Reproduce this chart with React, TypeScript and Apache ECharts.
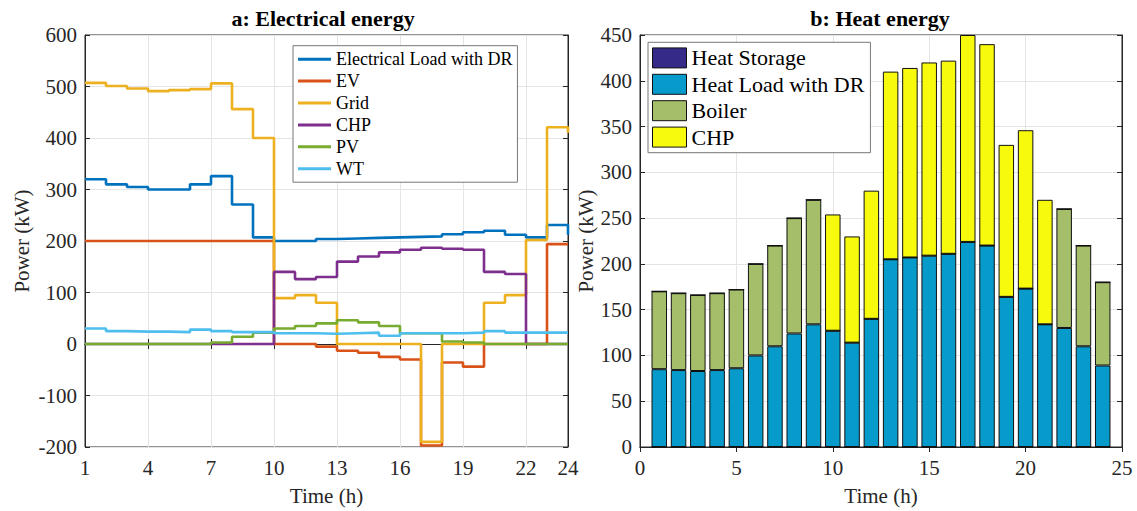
import React, { useEffect, useRef } from 'react';
import * as echarts from 'echarts';

// ---- Panel a: electrical energy (hourly stairs) ----
const hours = ['1', '2', '3', '4', '5', '6', '7', '8', '9', '10', '11', '12', '13', '14', '15', '16', '17', '18', '19', '20', '21', '22', '23', '24'];

const loadWithDR = [320, 310, 305, 300, 300, 310, 326, 271, 207, 200, 200, 204, 205, 206, 207, 208, 209, 213, 217, 220, 212, 207, 231, 212];
const ev = [200, 200, 200, 200, 200, 200, 200, 200, 200, 0, 0, -5, -13, -17, -25, -30, -197, -36, -44, 0, 0, 0, 194, 194];
const gridPower = [507, 501, 496, 491, 493, 495, 506, 456, 400, 89, 95, 80, 0, 0, 0, 0, -190, 0, 0, 80, 95, 202, 421, 410];
const chpPower = [0, 0, 0, 0, 0, 0, 0, 0, 0, 140, 126, 130, 160, 170, 178, 183, 187, 185, 183, 140, 136, 0, 0, 0];
const pv = [0, 0, 0, 0, 0, 0, 3, 14, 22, 30, 35, 40, 46, 42, 35, 21, 21, 5, 3, 0, 0, 0, 0, 0];
const wt = [30, 25, 24, 24, 23, 28, 25, 23, 23, 21, 21, 20, 21, 22, 16, 21, 21, 21, 22, 25, 22, 22, 22, 22];

// ---- Panel b: heat energy (stacked bars, hours 1..24 on a 0..25 axis) ----
const heatAxis = ['0', '1', '2', '3', '4', '5', '6', '7', '8', '9', '10', '11', '12', '13', '14', '15', '16', '17', '18', '19', '20', '21', '22', '23', '24', '25'];
const heatStorage = [0, 0, 0, 0, 0, 0, 0, 0, 0, 0, 0, 0, 0, 0, 0, 0, 0, 0, 0, 0, 0, 0, 0, 0];
const heatLoad = [85, 84, 83, 84, 86, 100, 110, 124, 134, 127, 114, 140, 205, 207, 209, 211, 224, 220, 164, 173, 134, 130, 110, 89];
const boiler = [85, 84, 83, 84, 86, 100, 110, 126, 136, 0, 0, 0, 0, 0, 0, 0, 0, 0, 0, 0, 0, 130, 110, 91];
const chpHeat = [0, 0, 0, 0, 0, 0, 0, 0, 0, 127, 116, 140, 205, 207, 211, 211, 226, 220, 166, 173, 136, 0, 0, 0];

const FONT = 'Liberation Serif';
const AXIS = '#262626';
const GRIDLINE = '#e4e4e4';

const hourTick = (index: number) => index % 3 === 0 || index === 23;
const heatTick = (index: number) => index % 5 === 0;

// hour values sit between the empty 0 and 25 slots of the heat axis
const onHeatAxis = (vals: number[]) => [null, ...vals, null];

const lineSeries = (name: string, data: number[], color: string) => ({
  name,
  type: 'line',
  xAxisIndex: 0,
  yAxisIndex: 0,
  step: 'end',
  symbol: 'none',
  showSymbol: false,
  data,
  itemStyle: { color },
  lineStyle: { color, width: 2.6 },
});

const barSeries = (name: string, data: number[], color: string) => ({
  name,
  type: 'bar',
  xAxisIndex: 2,
  yAxisIndex: 2,
  stack: 'heat',
  barWidth: 15.5,
  data: onHeatAxis(data),
  itemStyle: { color, borderColor: '#111', borderWidth: 1 },
});

const labelStyle = { fontFamily: FONT, fontSize: 21, color: AXIS };
const nameStyle = { fontFamily: FONT, fontSize: 21, color: AXIS };

const boxAxis = (gridIndex: number, position: string, extra: object) => ({
  gridIndex,
  position,
  axisLine: { show: true, lineStyle: { color: AXIS } },
  axisLabel: { show: false },
  splitLine: { show: false },
  ...extra,
});

export default function App() {
  const ref = useRef<HTMLDivElement>(null);

  useEffect(() => {
    const chart = echarts.init(ref.current!, null, { renderer: 'svg' });
    const option = {
      animation: false,
      backgroundColor: '#fff',
      grid: [
        { left: 85, top: 35, width: 483, height: 412, show: true, borderColor: AXIS, borderWidth: 1, backgroundColor: 'transparent' },
        { left: 640, top: 35, width: 482, height: 412, show: true, borderColor: AXIS, borderWidth: 1, backgroundColor: 'transparent' },
      ],
      xAxis: [
        {
          type: 'category',
          gridIndex: 0,
          data: hours,
          boundaryGap: false,
          position: 'bottom',
          axisLine: { lineStyle: { color: AXIS } },
          axisTick: { inside: true, length: 5, interval: hourTick, lineStyle: { color: AXIS } },
          axisLabel: { interval: hourTick, margin: 10, ...labelStyle },
          splitLine: { show: true, interval: hourTick, lineStyle: { color: GRIDLINE } },
          name: 'Time (h)',
          nameLocation: 'middle',
          nameGap: 38,
          nameTextStyle: nameStyle,
        },
        boxAxis(0, 'top', {
          type: 'category',
          data: hours,
          boundaryGap: false,
          axisTick: { inside: true, length: 5, interval: hourTick, lineStyle: { color: AXIS } },
        }),
        {
          type: 'category',
          gridIndex: 1,
          data: heatAxis,
          boundaryGap: false,
          position: 'bottom',
          axisLine: { lineStyle: { color: AXIS } },
          axisTick: { inside: true, length: 5, interval: heatTick, lineStyle: { color: AXIS } },
          axisLabel: { interval: heatTick, margin: 10, ...labelStyle },
          splitLine: { show: true, interval: heatTick, lineStyle: { color: GRIDLINE } },
          name: 'Time (h)',
          nameLocation: 'middle',
          nameGap: 38,
          nameTextStyle: nameStyle,
        },
        boxAxis(1, 'top', {
          type: 'category',
          data: heatAxis,
          boundaryGap: false,
          axisTick: { inside: true, length: 5, interval: heatTick, lineStyle: { color: AXIS } },
        }),
      ],
      yAxis: [
        {
          type: 'value',
          gridIndex: 0,
          min: -200,
          max: 600,
          interval: 100,
          position: 'left',
          axisLine: { show: true, lineStyle: { color: AXIS } },
          axisTick: { show: true, inside: true, length: 5, lineStyle: { color: AXIS } },
          axisLabel: { margin: 8, ...labelStyle },
          splitLine: { show: true, lineStyle: { color: GRIDLINE } },
          name: 'Power (kW)',
          nameLocation: 'middle',
          nameGap: 53,
          nameTextStyle: nameStyle,
        },
        boxAxis(0, 'right', {
          type: 'value',
          min: -200,
          max: 600,
          interval: 100,
          axisTick: { show: true, inside: true, length: 5, lineStyle: { color: AXIS } },
        }),
        {
          type: 'value',
          gridIndex: 1,
          min: 0,
          max: 450,
          interval: 50,
          position: 'left',
          axisLine: { show: true, lineStyle: { color: AXIS } },
          axisTick: { show: true, inside: true, length: 5, lineStyle: { color: AXIS } },
          axisLabel: { margin: 8, ...labelStyle },
          splitLine: { show: true, lineStyle: { color: GRIDLINE } },
          name: 'Power (kW)',
          nameLocation: 'middle',
          nameGap: 42,
          nameTextStyle: nameStyle,
        },
        boxAxis(1, 'right', {
          type: 'value',
          min: 0,
          max: 450,
          interval: 50,
          axisTick: { show: true, inside: true, length: 5, lineStyle: { color: AXIS } },
        }),
      ],
      legend: [
        {
          data: ['Electrical Load with DR', 'EV', 'Grid', 'CHP', 'PV', 'WT'],
          orient: 'vertical',
          left: 293,
          top: 45.7,
          icon: 'rect',
          itemWidth: 33,
          itemHeight: 3,
          itemGap: 3.9,
          padding: [4.5, 5, 4.5, 5],
          borderColor: '#777',
          borderWidth: 1,
          backgroundColor: '#fff',
          itemStyle: { borderWidth: 0 },
          textStyle: { fontFamily: FONT, fontSize: 18, lineHeight: 18, color: '#000' },
          selectedMode: false,
        },
        {
          data: ['Heat Storage', 'Heat Load with DR', 'Boiler', 'CHP heat'],
          formatter: (name: string) => (name === 'CHP heat' ? 'CHP' : name),
          orient: 'vertical',
          left: 648,
          top: 42.3,
          icon: 'rect',
          itemWidth: 34,
          itemHeight: 20,
          itemGap: 2.4,
          padding: [3.6, 6, 3.6, 4],
          borderColor: '#777',
          borderWidth: 1,
          backgroundColor: '#fff',
          itemStyle: { borderColor: '#111', borderWidth: 1 },
          textStyle: { fontFamily: FONT, fontSize: 22, lineHeight: 24, color: '#000' },
          selectedMode: false,
        },
      ],
      graphic: [
        {
          type: 'text',
          x: 323,
          y: 18,
          style: { text: 'a: Electrical energy', fill: '#000', font: `bold 22px "${FONT}"`, textAlign: 'center', textVerticalAlign: 'middle' },
        },
        {
          type: 'text',
          x: 880,
          y: 18,
          style: { text: 'b: Heat energy', fill: '#000', font: `bold 22px "${FONT}"`, textAlign: 'center', textVerticalAlign: 'middle' },
        },
      ],
      series: [
        lineSeries('Electrical Load with DR', loadWithDR, '#0072BD'),
        lineSeries('EV', ev, '#D95319'),
        lineSeries('Grid', gridPower, '#EDB120'),
        lineSeries('CHP', chpPower, '#7E2F8E'),
        lineSeries('PV', pv, '#77AC30'),
        lineSeries('WT', wt, '#4DBEEE'),
        barSeries('Heat Storage', heatStorage, '#352A87'),
        barSeries('Heat Load with DR', heatLoad, '#079BCC'),
        barSeries('Boiler', boiler, '#A5BE6A'),
        barSeries('CHP heat', chpHeat, '#F8FA0D'),
      ],
    };
    chart.setOption(option as any);
    return () => chart.dispose();
  }, []);

  return (
    <div
      ref={ref}
      style={{ position: 'absolute', left: 0, top: 0, width: 1137, height: 511, background: '#fff' }}
    />
  );
}
